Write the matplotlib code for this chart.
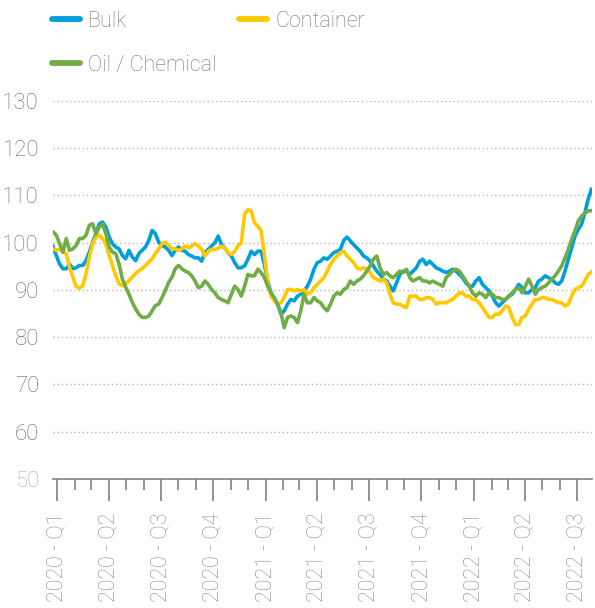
import matplotlib
matplotlib.use("Agg")
import matplotlib.pyplot as plt
import matplotlib.dates as mdates
from matplotlib.lines import Line2D
import pandas as pd

plt.rcParams['font.family'] = ['Roboto', 'DejaVu Sans']
plt.rcParams['font.weight'] = 'light'

series_names = ["Bulk", "Container", "Oil / Chemical"]
colors = ["#009FDB", "#FFC800", "#70AD47"]

start_date = "2019-12-25"
end_date = "2022-07-26"

bulk = [99.2, 97.3, 95.5, 94.5, 94.5, 95.5, 94.5, 94.7, 95.2, 95.2, 96.2, 98.0, 100.1, 101.9, 104.0, 104.4,
        103.3, 101.2, 99.8, 99.1, 98.7, 97.3, 96.6, 98.4, 97.0, 96.2, 97.7, 98.4, 99.1, 100.5, 102.6, 101.9,
        100.1, 99.4, 99.1, 98.4, 97.3, 98.4, 99.1, 98.4,
        98.2, 97.5, 97.2, 96.8, 96.8, 96.1, 97.9, 98.6, 99.3, 100.0, 101.4, 99.6, 98.9, 97.9, 97.2, 95.8,
        94.7, 94.7, 95.1, 96.5, 98.2, 97.5, 98.2, 98.2, 95.4, 91.9, 89.4, 88.0, 87.0, 84.9, 85.6, 87.0,
        88.0, 87.7, 88.7, 89.1, 89.8, 90.8, 92.3, 94.4, 95.8,
        96.1, 96.8, 96.5, 97.2, 97.9, 98.2, 98.6, 100.5, 101.2, 100.4, 99.6, 98.9, 98.2, 97.2, 96.8, 96.1,
        95.1, 94.0, 93.3, 92.3, 91.9, 90.8, 89.8, 91.5, 93.3, 94.0, 94.0, 93.3, 94.0, 94.7, 96.1, 96.5,
        95.4, 96.1, 95.4, 94.7, 94.4, 94.0, 93.7, 94.0, 94.4,
        94.0, 93.3, 92.6, 91.5, 90.8, 90.8, 91.9, 92.6, 91.2, 90.5, 89.8, 88.7, 87.3, 86.6, 87.3, 88.0,
        88.7, 89.1, 90.1, 91.2, 90.5, 89.4, 89.4, 90.1, 90.5, 91.9, 92.3, 93.0, 92.6, 92.3, 91.5, 91.2,
        91.9, 94.0, 96.5, 98.9, 101.4, 102.8, 103.9, 106.3, 109.2, 111.3]

container = [98.7, 98.4, 98.7, 98.0, 97.7, 94.8, 92.7, 90.7, 90.4, 90.9, 93.4, 97.0, 99.8, 101.2, 101.6, 100.9,
             99.8, 97.3, 95.2, 93.0, 91.3, 90.9, 91.3, 92.0, 92.7, 93.5, 94.1, 94.5, 95.2, 95.9, 96.6, 97.7,
             98.7, 99.8, 100.1, 99.4, 98.7, 98.7, 98.4, 98.7,
             99.3, 98.9, 99.3, 99.8, 99.3, 98.6, 97.2, 98.2, 98.6, 98.6, 98.8, 99.3, 98.9, 97.9, 97.5, 98.2,
             99.3, 100.0, 106.0, 107.0, 106.7, 104.2, 103.5, 102.5, 97.5, 91.5, 88.7, 87.7, 87.0, 87.3, 88.4, 90.1,
             90.1, 89.8, 90.1, 89.8, 90.1, 89.1, 89.4, 90.5, 91.2,
             91.9, 92.6, 94.0, 95.4, 96.5, 97.2, 97.9, 98.2, 97.2, 96.5, 95.8, 94.7, 94.4, 94.7, 94.4, 93.7,
             92.6, 92.3, 91.9, 92.3, 91.5, 89.1, 87.3, 87.0, 87.0, 86.6, 86.3, 88.7, 88.7, 88.7, 88.0, 88.0,
             88.4, 88.4, 88.0, 87.0, 87.3, 87.3, 87.3, 87.7, 88.0,
             88.7, 89.4, 89.4, 88.7, 88.7, 88.0, 88.0, 87.3, 86.3, 85.2, 84.2, 84.2, 84.9, 84.9, 85.6, 86.6,
             86.3, 84.2, 82.7, 82.7, 84.2, 84.5, 85.9, 87.0, 88.0, 88.0, 88.4, 88.4, 88.0, 88.0, 87.7, 87.3,
             87.3, 86.6, 87.0, 88.7, 90.1, 90.5, 90.8, 91.9, 93.3, 93.8]

oil_chemical = [102.3, 101.6, 99.8, 98.0, 100.9, 98.4, 98.7, 99.4, 100.9, 100.9, 101.6, 103.7, 104.0, 101.9, 103.3, 104.0,
                101.9, 99.1, 98.0, 97.7, 95.5, 92.3, 90.6, 89.1, 87.4, 86.0, 84.9, 84.2, 84.2, 84.5, 85.6, 86.7,
                87.0, 88.4, 89.9, 91.6, 92.7, 94.5, 95.2, 94.5,
                94.0, 93.7, 93.0, 91.9, 90.5, 90.8, 91.9, 91.2, 90.1, 89.4, 88.4, 88.0, 87.7, 87.3, 89.1, 90.8,
                90.1, 88.7, 90.8, 93.3, 93.0, 93.0, 94.4, 93.7, 92.6, 90.8, 89.4, 88.4, 87.0, 85.2, 82.0, 84.2,
                84.5, 84.2, 83.1, 85.6, 89.1, 87.3, 87.3, 88.4, 87.7,
                87.3, 86.3, 85.6, 87.0, 88.7, 89.4, 89.1, 90.1, 90.5, 91.9, 91.2, 91.9, 92.3, 93.0, 94.0, 95.1,
                96.5, 97.2, 94.7, 93.3, 93.7, 93.0, 92.6, 93.3, 94.0, 93.7, 94.4, 92.6, 91.9, 92.3, 92.6, 91.9,
                91.9, 91.5, 91.9, 91.5, 91.2, 90.8, 92.6, 93.3, 94.0,
                94.4, 94.0, 93.0, 91.9, 90.8, 89.4, 88.7, 89.4, 89.1, 88.4, 89.4, 89.1, 88.4, 88.4, 88.0, 88.0,
                88.7, 89.4, 90.1, 90.5, 89.4, 90.8, 92.3, 90.8, 89.1, 90.1, 90.5, 90.8, 91.5, 92.3, 93.0, 94.0,
                95.1, 96.8, 98.6, 100.7, 102.5, 104.6, 105.6, 106.3, 106.7, 106.8]

y_ticks = [50, 60, 70, 80, 90, 100, 110, 120, 130]

dates = pd.date_range(start_date, end_date, periods=len(bulk))

fig = plt.figure(figsize=(5.95, 6.08), dpi=100)
ax = fig.add_axes([53 / 595, 1 - 479 / 608, (592 - 53) / 595, (479 - 101) / 608])

for name, vals, c in zip(series_names, [bulk, container, oil_chemical], colors):
    ax.plot(dates, vals, color=c, lw=2.6, label=name, solid_joinstyle='round')

ax.set_ylim(50, 130)
ax.set_xlim(pd.Timestamp("2019-12-25"), pd.Timestamp("2022-07-27"))
ax.set_yticks(y_ticks)
for v in y_ticks[1:]:
    ax.axhline(v, color="#b5b5b5", lw=1.0, ls=(0, (1, 2)), zorder=0)

ax.xaxis.set_major_locator(mdates.MonthLocator(bymonth=[1, 4, 7, 10]))
ax.xaxis.set_minor_locator(mdates.MonthLocator())
ax.xaxis.set_major_formatter(
    matplotlib.ticker.FuncFormatter(
        lambda x, pos: (lambda d: f"{d.year} - Q{(d.month - 1) // 3 + 1}")(mdates.num2date(x))))

for s in ["top", "right", "left"]:
    ax.spines[s].set_visible(False)
ax.spines["bottom"].set_color("#808080")
ax.spines["bottom"].set_linewidth(1.2)

ax.tick_params(axis='x', which='major', length=16, width=1.2, color="#808080",
               labelrotation=90, labelsize=15.5, labelcolor="#8a8a8a", pad=8)
ax.tick_params(axis='x', which='minor', length=8, width=1.2, color="#808080")
ax.tick_params(axis='y', length=0, labelsize=16, labelcolor="#6b6b6b", pad=10)
for lab in ax.get_yticklabels():
    if lab.get_text() == "50":
        lab.set_color("#b9aea4")

handles = [Line2D([0], [0], color=colors[i], lw=4.2, solid_capstyle='round') for i in [0, 2, 1]]
labels = [series_names[i] for i in [0, 2, 1]]
fig.legend(handles, labels, ncol=2, loc='upper left', bbox_to_anchor=(43 / 595, 1 - 2 / 608),
           frameon=False, fontsize=15.5, labelcolor="#777777", handlelength=1.3, handletextpad=0.4,
           columnspacing=1.05, labelspacing=1.08, borderaxespad=0)

fig.savefig("out.png", dpi=100)
